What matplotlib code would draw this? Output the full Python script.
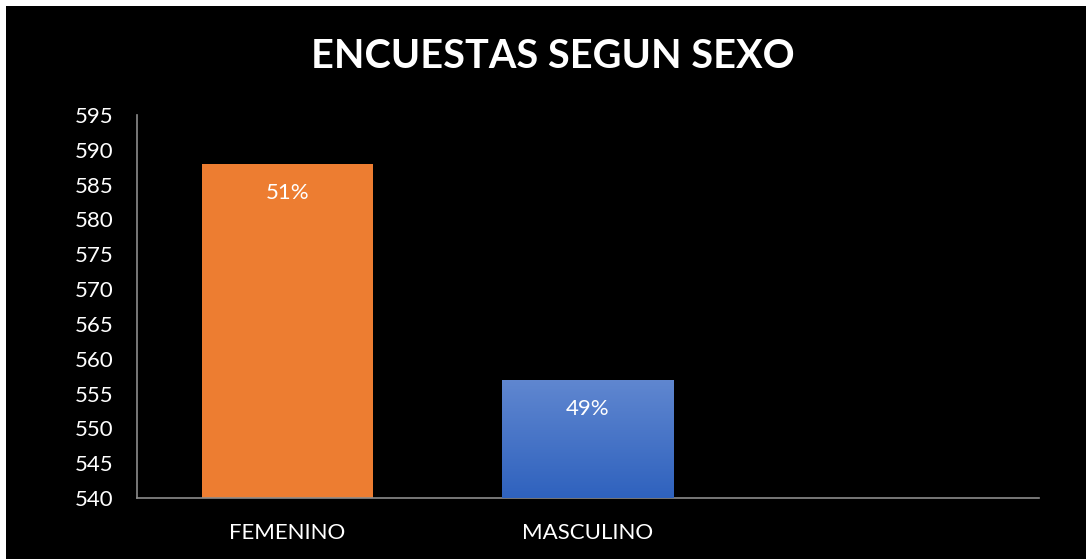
import matplotlib.pyplot as plt
import numpy as np
from matplotlib.patches import Rectangle

plt.rcParams['font.family'] = ['Lato', 'DejaVu Sans']

categorias = ["FEMENINO", "MASCULINO", ""]
encuestas = [588, 557, np.nan]
etiquetas = ["51%", "49%", ""]
yticks = list(range(540, 600, 5))

fig = plt.figure(figsize=(10.86, 5.59), dpi=100)
fig.patch.set_facecolor('white')
# fondo negro (deja un borde blanco arriba y a la izquierda)
fig.patches.append(Rectangle((6 / 1086, 0), 1, 1 - 6 / 559, transform=fig.transFigure,
                             facecolor='black', edgecolor='none', zorder=-10))

ax = fig.add_axes([137 / 1086, 1 - 498 / 559, (1039 - 137) / 1086, (498 - 115) / 559])
ax.set_facecolor('none')
x = np.arange(len(categorias))
bars = ax.bar(x, encuestas, width=0.57, color=['#ED7D31', '#4472C4', 'none'], zorder=2)

# degradado en la barra azul
b = bars[1]
grad = np.linspace(0, 1, 256).reshape(-1, 1)
cmap = plt.matplotlib.colors.LinearSegmentedColormap.from_list('g', ['#2F62BE', '#6087D0'])
im = ax.imshow(grad, cmap=cmap, origin='lower', aspect='auto', zorder=3,
               extent=[b.get_x(), b.get_x() + b.get_width(), 540, b.get_height()])
im.set_clip_path(b)

for i, v in enumerate(encuestas[:2]):
    ax.text(x[i], v - 4.2, etiquetas[i], ha='center', va='center', color='white',
            fontsize=16, zorder=4)

ax.set_xlim(-0.5, 2.5)
ax.set_ylim(540, 595)
ax.set_yticks(yticks)
ax.set_xticks(x)
ax.set_xticklabels(categorias)
ax.tick_params(colors='white', labelsize=16, length=0)
ax.tick_params(axis='y', pad=17)
ax.tick_params(axis='x', pad=18)
for s in ['top', 'right']:
    ax.spines[s].set_visible(False)
for s in ['left', 'bottom']:
    ax.spines[s].set_color('#8c8c8c')
    ax.spines[s].set_linewidth(1.2)

fig.text(553 / 1086, 1 - 56 / 559, "ENCUESTAS SEGUN SEXO", ha='center', va='center',
         color='white', fontsize=28.5, fontweight='bold')

fig.savefig('out.png', dpi=100, facecolor=fig.get_facecolor())
